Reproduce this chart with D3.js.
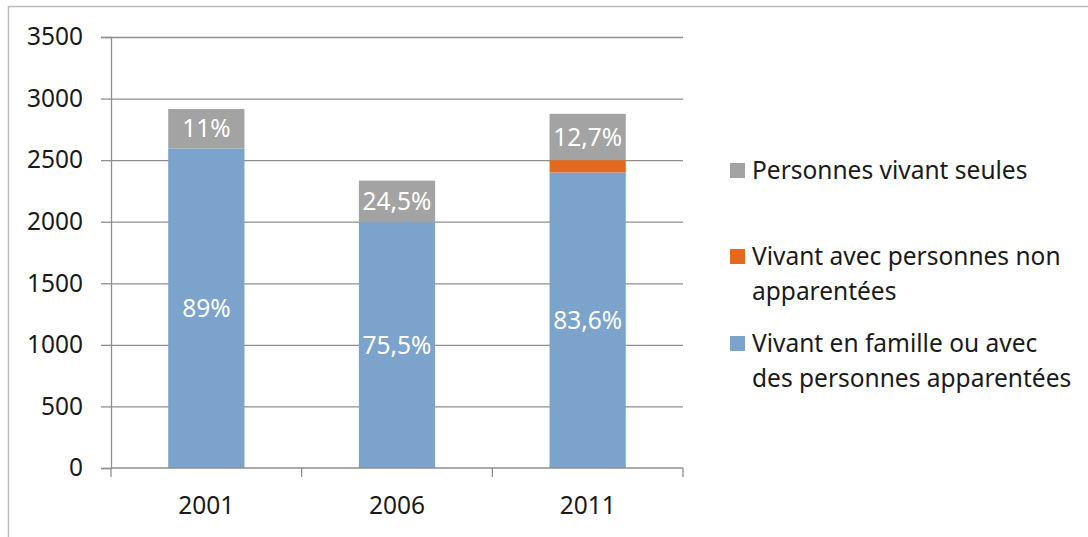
<!DOCTYPE html>
<html>
<head>
<meta charset="utf-8">
<script src="https://cdn.jsdelivr.net/npm/d3@7"></script>
<style>
  body { margin: 0; background: #fff; }
  svg { display: block; font-family: 'Noto Sans', 'Open Sans', sans-serif; }
</style>
</head>
<body>
<div id="chart"></div>
<script>
const years = ['2001', '2006', '2011'];
const famille = [2594, 1998, 2400];
const nonApparentees = [0, 0, 100];
const seules = [321, 336, 376];
const labelsFamille = ['89%', '75,5%', '83,6%'];
const labelsSeules = ['11%', '24,5%', '12,7%'];
const yTicks = [0, 500, 1000, 1500, 2000, 2500, 3000, 3500];

const colors = { famille: '#7ba3cc', nonApp: '#e2691d', seules: '#a3a3a3' };

const width = 1088;
const height = 537;
const plot = { left: 111, right: 683, top: 37, bottom: 468 };
const fontSize = 24.5;

const svg = d3.select('#chart')
  .append('svg')
  .attr('width', width)
  .attr('height', height);

// outer frame (only top and left visible in the source)
svg.append('rect')
  .attr('x', 8.5).attr('y', 6.5)
  .attr('width', width + 20).attr('height', height + 20)
  .attr('fill', 'none')
  .attr('stroke', '#bdbdbd')
  .attr('stroke-width', 1.5);

const x = d3.scaleBand()
  .domain(years)
  .range([plot.left, plot.right])
  .paddingInner(0.6)
  .paddingOuter(0.3);

const y = d3.scaleLinear()
  .domain([0, 3500])
  .range([plot.bottom, plot.top]);

const rows = years.map((year, i) => ({
  year,
  famille: famille[i],
  nonApp: nonApparentees[i],
  seules: seules[i]
}));

const stack = d3.stack().keys(['famille', 'nonApp', 'seules']);
const layers = stack(rows);

// gridlines
svg.append('g')
  .selectAll('line')
  .data(yTicks.filter(d => d > 0))
  .enter()
  .append('line')
  .attr('x1', plot.left).attr('x2', plot.right)
  .attr('y1', d => y(d) + 0.5).attr('y2', d => y(d) + 0.5)
  .attr('stroke', '#8e8e8e')
  .attr('stroke-width', 1.3);

// bars
svg.append('g')
  .selectAll('g')
  .data(layers)
  .enter()
  .append('g')
  .attr('fill', d => colors[d.key])
  .selectAll('rect')
  .data(d => d)
  .enter()
  .append('rect')
  .attr('x', d => x(d.data.year))
  .attr('width', x.bandwidth())
  .attr('y', d => y(d[1]))
  .attr('height', d => y(d[0]) - y(d[1]));

// y axis
const yAxis = svg.append('g')
  .attr('transform', `translate(${plot.left},0)`)
  .call(d3.axisLeft(y).tickValues(yTicks).tickFormat(d3.format('d')).tickSize(10).tickPadding(18));

// x axis
const xEdges = d3.scaleLinear().domain([0, years.length]).range([plot.left, plot.right]);
const xAxis = svg.append('g')
  .attr('transform', `translate(0,${plot.bottom})`);

xAxis.append('line')
  .attr('x1', plot.left).attr('x2', plot.right);

xAxis.selectAll('.tick')
  .data(d3.range(years.length + 1))
  .enter()
  .append('line')
  .attr('class', 'tick')
  .attr('x1', d => xEdges(d)).attr('x2', d => xEdges(d))
  .attr('y1', 0).attr('y2', 9);

xAxis.selectAll('text')
  .data(years)
  .enter()
  .append('text')
  .attr('x', d => x(d) + x.bandwidth() / 2)
  .attr('y', 46)
  .attr('text-anchor', 'middle')
  .text(d => d);

[yAxis, xAxis].forEach(axis => {
  axis.select('.domain').attr('stroke', '#8e8e8e').attr('stroke-width', 1.3);
  axis.selectAll('line').attr('stroke', '#8e8e8e').attr('stroke-width', 1.3);
  axis.selectAll('text').attr('fill', '#1a1a1a').attr('font-size', fontSize).attr('font-family', "'Noto Sans', sans-serif");
});

// percentage labels
const labelG = svg.append('g')
  .attr('fill', '#fff')
  .attr('font-size', fontSize)
  .attr('text-anchor', 'middle');

labelG.selectAll('.lf')
  .data(layers[0])
  .enter()
  .append('text')
  .attr('x', d => x(d.data.year) + x.bandwidth() / 2)
  .attr('y', d => (y(d[0]) + y(d[1])) / 2)
  .attr('dy', '0.35em')
  .text((d, i) => labelsFamille[i]);

labelG.selectAll('.ls')
  .data(layers[2])
  .enter()
  .append('text')
  .attr('x', d => x(d.data.year) + x.bandwidth() / 2)
  .attr('y', d => (y(d[0]) + y(d[1])) / 2)
  .attr('dy', '0.35em')
  .text((d, i) => labelsSeules[i]);

// legend
const legendItems = [
  { lines: ['Personnes vivant seules'], color: colors.seules, y: 170 },
  { lines: ['Vivant avec personnes non', 'apparentées'], color: colors.nonApp, y: 256 },
  { lines: ['Vivant en famille ou avec', 'des personnes apparentées'], color: colors.famille, y: 343 }
];

const legend = svg.append('g').attr('class', 'legend');

legendItems.forEach(item => {
  legend.append('rect')
    .attr('x', 730).attr('y', item.y - 7)
    .attr('width', 15).attr('height', 15)
    .attr('fill', item.color);

  item.lines.forEach((line, j) => {
    legend.append('text')
      .attr('x', 752)
      .attr('y', item.y + j * 35)
      .attr('dy', '0.35em')
      .attr('font-size', fontSize)
      .attr('fill', '#1a1a1a')
      .text(line);
  });
});
</script>
</body>
</html>
